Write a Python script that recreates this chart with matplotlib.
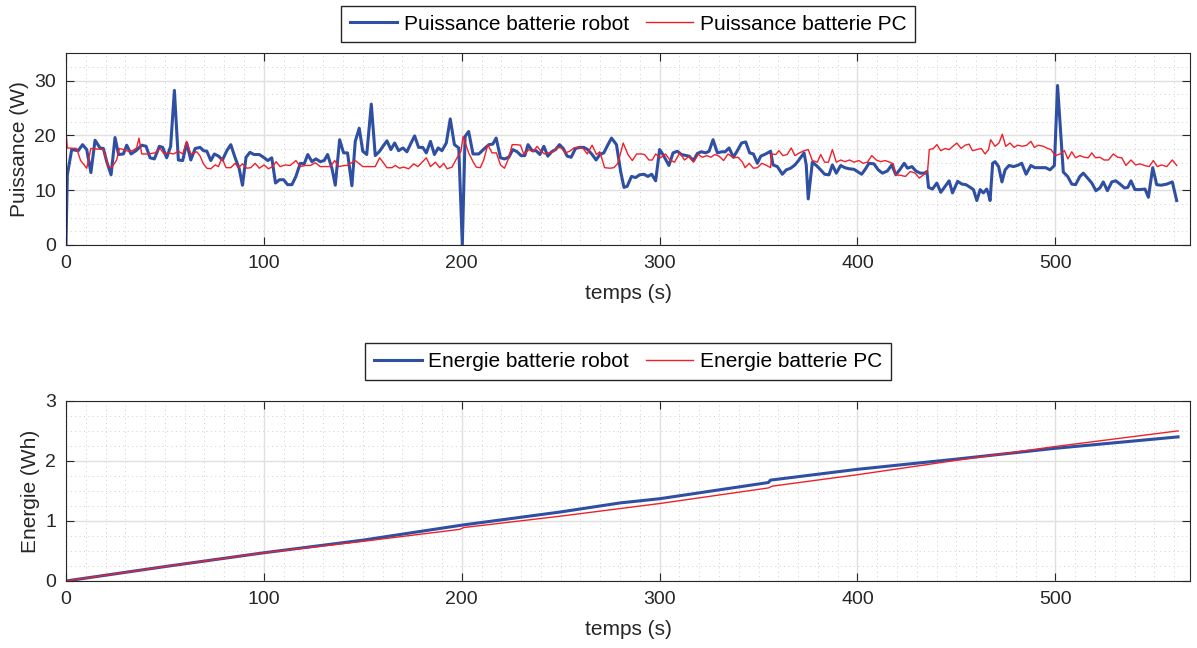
import numpy as np
import matplotlib
matplotlib.use("Agg")
import matplotlib.pyplot as plt
from matplotlib.ticker import MultipleLocator

plt.rcParams['font.family'] = ['Liberation Sans', 'DejaVu Sans']

# ---------------- puissance robot (W)
t_p_robot = [0, 0.7, 2.9, 6.2, 8.4, 10.5, 12.6, 14.7, 17.2, 18.9, 20.6, 22.8, 24.8, 26.6, 29, 30.7,
             32.9, 35.4, 38.3, 40.5, 42.5, 44.7, 47.2, 48.9, 50.9, 52.9, 54.8, 56.8, 59, 61, 63.1,
             65.3, 67.8, 69.5, 71.2, 73.2, 75, 77.1, 79.1, 81.3, 83.3, 85.5, 87.5, 89.2, 91, 93,
             95, 97.7, 99.8, 102, 104, 105.9, 107.9, 110, 112, 114.2, 116.2, 118.4, 120.4, 122.2,
             124.3, 126.3, 128.5, 130.5, 132.2, 134.4, 136.1, 138.3, 140.3, 142.3, 144.5, 146.2,
             148.2, 150, 152, 154.3, 156.3, 158.5, 160.2, 162.2, 164.2, 166.1, 168.1, 170.3,
             172.3, 174.4, 176.2, 178.2, 180.3, 182.1, 184.2, 186.2, 188.1, 190, 192.2, 194.2,
             196.3, 198.5, 200.3, 201.7, 203.5, 205.7, 208.6, 211.5, 213.7, 215.7, 217.4, 219.6,
             221.6, 223.8, 225.8, 228, 230, 231.9, 233.5, 235.6, 237.6, 239.5, 241.5, 243.5,
             245.4, 247.4, 249.4, 251.3, 253.3, 255.3, 257.5, 259.5, 261.7, 263.7, 265.9, 267.9,
             269.8, 271.8, 273.9, 275.7, 278.2, 280.3, 282, 283.6, 285.8, 287.9, 289.9, 292.1,
             294.1, 296, 298, 300, 301.7, 304.7, 306.8, 309, 311, 314.9, 317.1, 319.1, 321.1,
             323.3, 325, 327, 329.2, 331.4, 333.1, 335.1, 337.3, 339.3, 341.4, 343.5, 345.5,
             347.4, 349.4, 351.1, 353.6, 356.1, 357.3, 359.5, 362, 364, 366.2, 368.4, 370.4, 373,
             374.1, 375.1, 377.2, 379.2, 381.4, 383.4, 385.6, 387.3, 389.3, 391.5, 393.6, 395.7,
             398.2, 399.9, 402.1, 404.1, 405.8, 408.3, 410.5, 412.6, 415.1, 417.3, 419.4, 421.3,
             423.6, 425.3, 427.5, 429.5, 431.7, 433.9, 435.1, 435.9, 437.9, 440.1, 442.1, 444.3,
             446.3, 448, 450.6, 452.8, 454.8, 457, 458.6, 460.3, 462, 463.6, 465.3, 466.2, 467,
             468.3, 469.5, 471.3, 473, 474.6, 476.6, 478.8, 480.8, 483, 485.2, 487.6, 489.7,
             491.4, 495.1, 497.3, 499.5, 501.1, 504, 506.2, 508.3, 510.2, 512.4, 514.1, 516.3,
             518.4, 520.5, 522.5, 524.2, 526.3, 528.5, 530.5, 532.7, 534.9, 536.6, 538.2, 540.2,
             542.8, 545.3, 547, 549.2, 551.2, 553.4, 556.3, 559.1, 561.3]
p_robot = [0, 12.8, 17.4, 17.2, 18.3, 17.4, 13.2, 19.1, 17.7, 17.6, 15.2, 12.8, 19.6, 16.5, 16.6, 18.2,
           16.6, 17.2, 18.2, 18.0, 15.9, 15.7, 18.0, 17.8, 15.9, 18.0, 28.2, 15.5, 15.4, 18.6, 15.5,
           17.6, 17.8, 17.2, 17.1, 15.4, 16.6, 16.2, 15.5, 17.2, 18.3, 15.9, 14.0, 10.9, 16.0, 16.9,
           16.5, 16.5, 16.0, 15.4, 15.9, 11.3, 11.9, 11.9, 11.0, 11.0, 12.5, 14.9, 14.8, 16.5,
           15.2, 15.7, 15.2, 15.4, 16.5, 14.0, 10.9, 19.2, 16.8, 16.8, 10.8, 18.9,
           21.3, 17.1, 16.5, 25.7, 16.3, 17.1, 18.0, 19.0, 17.4, 18.6, 17.2, 17.7,
           17.0, 18.6, 19.9, 17.8, 17.8, 16.8, 18.9, 16.5, 17.7, 17.2, 18.6, 23.0,
           18.3, 17.7, 0, 19.8, 20.7, 16.6, 16.6, 17.6, 18.3, 18.4, 19.5, 15.9,
           15.7, 16.0, 17.4, 17.0, 16.3, 16.3, 18.3, 17.2, 17.2, 16.5, 18.0, 16.2,
           17.0, 17.4, 18.3, 17.6, 16.2, 16.0, 17.6, 17.8, 17.8, 17.4, 16.5, 15.5,
           16.5, 16.8, 18.3, 19.5, 18.3, 13.4, 10.5, 10.7, 12.5, 12.3, 12.8, 12.9,
           12.5, 12.9, 11.7, 17.4, 16.5, 14.5, 16.8, 17.1, 16.5, 16.2, 15.4, 16.7, 17.0,
           16.8, 17.1, 19.2, 16.8, 17.0, 17.0, 17.7, 16.0, 17.2, 18.6, 18.8, 16.8,
           16.6, 14.9, 16.2, 16.6, 17.1, 14.6, 14.3, 12.9, 13.7, 14.0, 14.6, 15.5, 16.8,
           14.6, 8.4, 15.1, 14.5, 13.7, 12.9, 12.8, 14.6, 13.1, 14.5, 14.1, 13.9,
           13.8, 13.4, 12.9, 13.9, 14.9, 14.8, 13.7, 13.1, 13.5, 14.6, 12.8, 13.7,
           14.9, 14.0, 14.3, 13.5, 13.1, 13.1, 13.4, 10.5, 10.2, 11.3, 9.6, 10.7,
           11.7, 9.5, 11.6, 11.1, 11.0, 10.5, 10.1, 8.1, 10.1, 9.5, 10.2, 9.3, 8.1,
           14.9, 15.2, 14.3, 11.5, 13.7, 14.5, 14.3, 14.5, 14.9, 12.9, 14.5, 14.1,
           14.1, 14.1, 13.7, 14.5, 29.1, 13.3, 12.5, 11.1, 11.0, 12.5, 13.1, 12.2,
           11.3, 9.9, 10.4, 11.5, 9.9, 11.5, 11.7, 11.1, 10.4, 10.5, 11.7, 10.1,
           10.1, 10.2, 8.7, 14.1, 11.0, 10.9, 11.1, 11.5, 8.1]

# ---------------- puissance PC (W)
t_p_pc = [0, 0.7, 5.4, 7.4, 10.5, 12.6, 18.9, 21.4, 23.1, 25.6, 27, 29, 31.5, 33.7, 35.7, 36.9, 38.3,
          41.7, 45, 47.6, 49.6, 51.8, 54.3, 56.8, 59, 61, 63.1, 66.1, 67.8, 69.5, 71.2, 73.2, 75.4,
          77.1, 78.8, 80.9, 83.3, 85.5, 87.2, 89.2, 91.4, 93.4, 95.6, 97.7, 100.1, 102.3, 104.5,
          106.2, 108.2, 110.8, 113.3, 116.2, 118.4, 120.9, 123.5, 126, 128.5, 131, 133.6, 135.8,
          137.8, 140.6, 142, 146.2, 150, 156.3, 158.5, 160.2, 162.2, 164.8, 166.4, 168.6, 170.7,
          173.2, 175.8, 177.8, 180, 182.1, 184.2, 186.7, 188.9, 190.9, 192.6, 195.1, 197.6, 199.6,
          200.7, 203.5, 206, 207.4, 209.4, 211.1, 213.2, 215.3, 217.5, 219.6, 221.6, 223.8, 225.5,
          227.7, 229.7, 231.4, 233.9, 236.1, 238.1, 239.8, 241.8, 244, 246.2, 248.2, 250.3, 252.4,
          254.6, 256.7, 259.2, 261.4, 263.4, 265.9, 268.1, 269.8, 272.2, 274.9, 276.9, 278.9,
          281.6, 284, 286.2, 288.4, 290.7, 292.4, 294.6, 296.3, 298, 300.5, 303, 305.2, 307.5,
          310.2, 312.6, 314.9, 317.1, 319.5, 321.7, 323.8, 325.9, 327.9, 330.1, 332.3, 334.6,
          337.3, 339.6, 341.9, 343.2, 345.3, 347.4, 349.4, 351.7, 353.6, 356.1, 356.5, 358.7,
          360.3, 362.3, 364.5, 366.5, 368.4, 370.7, 373, 375.1, 377.2, 379.7, 381.4, 383.4,
          385.3, 387.3, 389.3, 391.5, 393.6, 396, 398.2, 400.7, 402.8, 405, 407.2, 409.5, 411.7,
          413.9, 416.3, 418.1, 419.4, 421.9, 424.2, 426.7, 429.2, 431.2, 433.4, 435.4, 436.3,
          438.4, 440.1, 442.1, 444.3, 446.3, 448.2, 450.2, 452.4, 454.4, 456.4, 458.1, 460.3,
          462.5, 464.5, 466.2, 467.3, 469.5, 471.5, 473.2, 474.9, 477.1, 479.1, 481, 483.3,
          485.5, 487.6, 489.4, 491.4, 493.9, 496.1, 497.8, 499.9, 502.4, 504.6, 506.3, 508.3,
          510.2, 512.4, 514.6, 516.6, 518.4, 520.3, 522.5, 524.6, 526.8, 529.3, 531.5, 533.6,
          535.6, 538.2, 540.6, 542.8, 545, 547.4, 549.5, 551.5, 553.7, 556.3, 559.1, 561.3]
p_pc = [20.9, 17.7, 17.6, 15.4, 14.0, 17.6, 17.4, 14.3, 14.1, 15.5, 17.6, 17.4, 17.1, 17.2, 17.7, 19.5, 16.6,
        16.6, 16.8, 17.6, 16.6, 16.8, 16.6, 17.1, 16.6, 18.9, 16.6, 17.0, 16.2, 14.8, 14.0, 13.9, 14.6,
        14.3, 15.9, 14.1, 14.1, 14.9, 14.1, 14.8, 14.0, 14.1, 14.9, 14.0, 14.6, 13.9, 14.3,
        15.2, 14.3, 14.6, 14.5, 15.4, 14.3, 14.5, 14.5, 15.0, 14.3, 14.3, 14.3, 15.4,
        14.3, 14.5, 14.5, 15.4, 14.3, 14.3, 15.9, 15.1, 14.1, 14.1, 14.5, 14.0, 14.2,
        13.9, 14.8, 14.3, 15.1, 15.9, 14.3, 15.1, 14.1, 14.9, 13.9, 14.2, 15.9, 17.1,
        19.8, 16.8, 15.0, 14.2, 14.1, 15.5, 18.3, 16.8, 16.8, 14.6, 14.0, 15.9, 18.3,
        18.3, 18.2, 16.5, 17.4, 17.0, 18.0, 17.2, 16.6, 16.8, 17.0, 17.8, 17.7, 16.8,
        17.1, 17.7, 17.8, 17.6, 16.6, 18.2, 16.5, 17.0, 14.1, 14.0, 14.1, 14.9,
        18.6, 16.5, 15.4, 16.6, 16.6, 16.5, 15.5, 15.5, 16.6, 15.9, 16.6, 15.5, 15.1,
        16.8, 15.5, 16.2, 15.1, 16.5, 16.0, 16.3, 16.0, 16.5, 16.2, 15.4, 16.6,
        15.9, 16.0, 15.1, 14.1, 14.9, 14.0, 14.1, 14.9, 14.6, 14.1, 16.6, 16.5,
        17.2, 16.3, 16.5, 17.7, 16.3, 16.8, 17.2, 17.4, 15.4, 15.1, 16.5, 15.1,
        15.1, 17.4, 15.1, 15.5, 15.2, 15.5, 15.1, 15.4, 14.9, 15.1, 16.3, 15.5, 15.2,
        15.4, 15.1, 14.8, 12.8, 12.7, 12.5, 13.4, 13.1, 12.2, 12.8, 13.4, 17.4,
        17.6, 18.3, 17.2, 17.6, 17.4, 18.0, 18.6, 17.6, 18.2, 18.4, 17.2, 17.4,
        17.6, 16.6, 17.4, 19.2, 18.0, 18.6, 20.2, 18.0, 18.6, 17.8, 18.2, 18.0,
        18.2, 18.9, 17.8, 18.2, 18.0, 17.6, 17.4, 16.3, 16.6, 17.2, 15.7, 17.0,
        15.9, 16.3, 16.0, 15.9, 16.8, 15.9, 16.0, 15.5, 15.5, 16.6, 16.0, 15.9,
        14.5, 15.5, 14.6, 14.8, 14.5, 14.3, 15.4, 14.3, 14.6, 14.3, 15.5, 14.5]

# ---------------- energie (Wh)
t_e_robot = [0, 50, 100, 150, 200, 250, 280, 300, 355, 356, 400, 450, 500, 562]
e_robot = [0, 0.24, 0.47, 0.68, 0.93, 1.15, 1.30, 1.37, 1.64, 1.68, 1.86, 2.03, 2.21, 2.40]
t_e_pc = [0, 50, 100, 150, 199, 201, 250, 300, 355, 357, 400, 450, 500, 562]
e_pc = [0, 0.24, 0.47, 0.66, 0.86, 0.89, 1.08, 1.29, 1.55, 1.58, 1.77, 2.01, 2.24, 2.50]

blue = '#2f4fa2'
red = '#f0202a'
fs = 14

fig = plt.figure(figsize=(11.97, 6.48), dpi=100)
ax1 = fig.add_axes([0.0551, 0.622, 0.939, 0.296])
ax2 = fig.add_axes([0.0551, 0.1034, 0.939, 0.278])


def style(ax, ymax, ymaj, ymin):
    ax.set_xlim(0, 568)
    ax.set_ylim(0, ymax)
    ax.xaxis.set_major_locator(MultipleLocator(100))
    ax.xaxis.set_minor_locator(MultipleLocator(10))
    ax.yaxis.set_major_locator(MultipleLocator(ymaj))
    ax.yaxis.set_minor_locator(MultipleLocator(ymin))
    ax.grid(which='major', color='#e0e0e0', linewidth=1.0)
    ax.grid(which='minor', color='#cfcfcf', linestyle=(0, (1, 3.5)), linewidth=0.7)
    ax.set_axisbelow(True)
    ax.tick_params(which='major', direction='in', length=6, width=0.8, top=True, right=True,
                   labelsize=fs, colors='#262626', pad=7)
    ax.tick_params(which='minor', length=0)
    for s in ax.spines.values():
        s.set_color('#262626')
        s.set_linewidth(0.8)
    ax.set_xlabel('temps (s)', fontsize=fs + 1, color='#262626', labelpad=9)


def leg(ax, yanch):
    ax.legend(loc='lower center', bbox_to_anchor=(0.5, yanch), ncol=2, fontsize=fs + 1,
              frameon=True, fancybox=False, edgecolor='#262626', framealpha=1,
              handlelength=2.3, handletextpad=0.3, columnspacing=0.8, borderpad=0.42,
              borderaxespad=0.2)


ax1.plot(t_p_robot, p_robot, color=blue, linewidth=2.2, label='Puissance batterie robot')
ax1.plot(t_p_pc, p_pc, color=red, linewidth=1.0, label='Puissance batterie PC')
style(ax1, 35, 10, 2.5)
ax1.set_ylabel('Puissance (W)', fontsize=fs + 1, color='#262626')
leg(ax1, 1.035)

ax2.plot(t_e_robot, e_robot, color=blue, linewidth=2.2, label='Energie batterie robot')
ax2.plot(t_e_pc, e_pc, color=red, linewidth=1.0, label='Energie batterie PC')
style(ax2, 3, 1, 0.25)
ax2.set_ylabel('Energie (Wh)', fontsize=fs + 1, color='#262626')
leg(ax2, 1.093)

fig.savefig('out.png', dpi=100)
